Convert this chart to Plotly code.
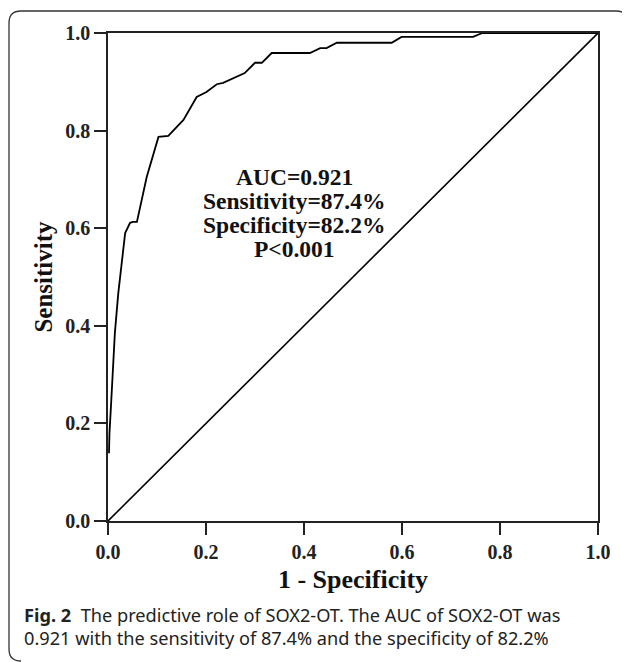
import plotly.graph_objects as go

# ROC curve points (1 - specificity, sensitivity)
fpr = [0.002, 0.003, 0.006, 0.010, 0.014, 0.021, 0.028, 0.035, 0.045, 0.051, 0.059,
       0.069, 0.079, 0.103, 0.123, 0.154, 0.181, 0.201, 0.222, 0.235, 0.279, 0.300,
       0.314, 0.334, 0.412, 0.433, 0.446, 0.467, 0.579, 0.599, 0.745, 0.764, 1.0]
tpr = [0.139, 0.180, 0.234, 0.303, 0.385, 0.467, 0.535, 0.590, 0.611, 0.613, 0.613,
       0.658, 0.705, 0.787, 0.789, 0.822, 0.869, 0.879, 0.895, 0.898, 0.918, 0.939,
       0.939, 0.959, 0.959, 0.969, 0.969, 0.980, 0.980, 0.992, 0.992, 1.0, 1.0]
ref_x = [0.0, 1.0]
ref_y = [0.0, 1.0]

tick_vals = [0.0, 0.2, 0.4, 0.6, 0.8, 1.0]
tick_text = ["0.0", "0.2", "0.4", "0.6", "0.8", "1.0"]

stats_lines = ["AUC=0.921", "Sensitivity=87.4%", "Specificity=82.2%", "P<0.001"]
caption_1 = "<b>Fig. 2</b>  The predictive role of SOX2-OT. The AUC of SOX2-OT was"
caption_2 = "0.921 with the sensitivity of 87.4% and the specificity of 82.2%"

OFF = 8  # page body margin
W, H = 622, 654
L, R, T, B = 100, 32, 25, 141
pw, ph = W - L - R, H - T - B


def px(x):
    return (x - OFF - L) / pw


def py(y):
    return (H - B - (y - OFF)) / ph


fig = go.Figure()
fig.add_trace(go.Scatter(x=ref_x, y=ref_y, mode="lines",
                         line=dict(color="black", width=1.6), showlegend=False))
fig.add_trace(go.Scatter(x=fpr, y=tpr, mode="lines",
                         line=dict(color="black", width=1.8), showlegend=False))

serif = "Liberation Serif, Times New Roman, serif"
axis_common = dict(
    range=[0, 1], tickvals=tick_vals, ticktext=tick_text,
    showgrid=False, zeroline=False, showline=True, linecolor="#222", linewidth=1.6,
    mirror=True, ticks="outside", ticklen=12, tickwidth=1.6, tickcolor="#222",
    tickfont=dict(family=serif, size=20, color="#222", weight="bold"),
)
fig.update_xaxes(**axis_common,
                 title=dict(text="<b>1 - Specificity</b>",
                            font=dict(family=serif, size=26, color="#111"), standoff=8))
fig.update_yaxes(**axis_common,
                 title=dict(text="<b>Sensitivity</b>",
                            font=dict(family=serif, size=25, color="#111"), standoff=5))

line_y = [177, 201, 225, 249]
for txt, yy in zip(stats_lines, line_y):
    fig.add_annotation(x=px(294), y=py(yy), xref="paper", yref="paper",
                       text="<b>" + txt + "</b>", showarrow=False, xanchor="center",
                       yanchor="middle",
                       font=dict(family=serif, size=23.5, color="#111"))

sans = "Noto Sans, Open Sans, sans-serif"
fig.add_annotation(x=px(22), y=py(615), xref="paper", yref="paper", text=caption_1,
                   showarrow=False, xanchor="left", yanchor="middle",
                   font=dict(family=sans, size=18.2, color="#222"))
fig.add_annotation(x=px(22), y=py(638), xref="paper", yref="paper", text=caption_2,
                   showarrow=False, xanchor="left", yanchor="middle",
                   font=dict(family=sans, size=18.2, color="#222"))

# rounded frame around the figure
x0, x1, y0, y1, r = 9, 628, 11, 661, 12
path = (f"M {px(x0)},{py(y1 - r)} L {px(x0)},{py(y0 + r)} "
        f"Q {px(x0)},{py(y0)} {px(x0 + r)},{py(y0)} L {px(x1 - r)},{py(y0)} "
        f"Q {px(x1)},{py(y0)} {px(x1)},{py(y0 + r)} L {px(x1)},{py(y1)}")
fig.add_shape(type="path", path=path, xref="paper", yref="paper",
              line=dict(color="#333", width=1.3))
fig.add_shape(type="path",
              path=f"M {px(x0)},{py(y1 - r)} Q {px(x0)},{py(y1)} {px(x0 + r)},{py(y1)}",
              xref="paper", yref="paper", line=dict(color="#333", width=1.3))

fig.update_layout(width=W, height=H, margin=dict(l=L, r=R, t=T, b=B, autoexpand=False),
                  paper_bgcolor="white", plot_bgcolor="white")
fig.write_html("out.html")
